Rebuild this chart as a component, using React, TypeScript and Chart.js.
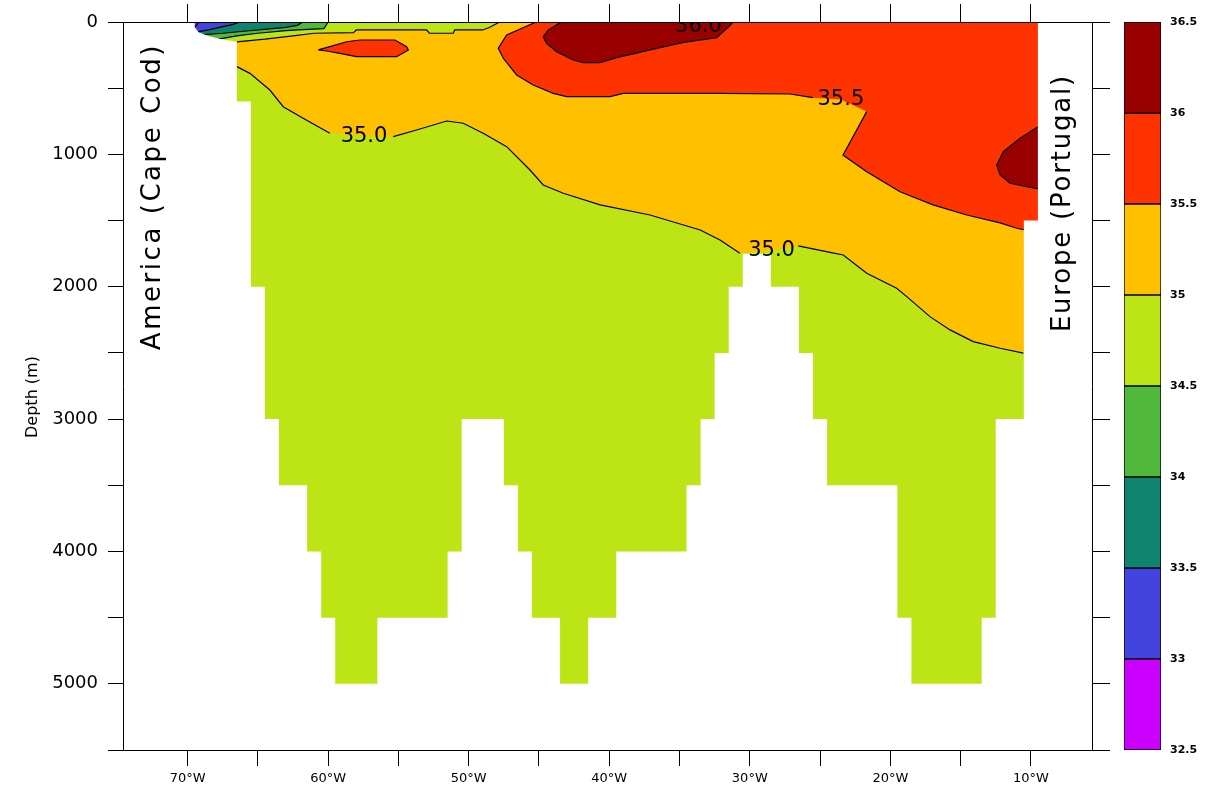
import { useEffect, useRef } from 'react';
import { Chart, registerables } from 'chart.js';

Chart.register(...registerables);

// ---- axes ----
const LON_MIN = -74.6;
const LON_MAX = -5.65;
const DEPTH_MAX = 5500;
const LON_TICK_STEP = 5;
const DEPTH_TICK_STEP = 500;
const Y_TITLE = 'Depth (m)';

// ---- salinity levels / colours ----
const LEVELS = [32.5, 33, 33.5, 34, 34.5, 35, 35.5, 36, 36.5];
const LEVEL_COLORS = ['#cc00ff', '#4343dd', '#0e836d', '#50b83a', '#bde516', '#ffc000', '#ff3300', '#990000'];

// ---- bathymetry (cell edges in degrees lon, floor depth per cell) ----
const SHELF_LON = [-69.5, -69.2, -68.5, -67.6, -66.5];
const SHELF_DEP = [40, 80, 105, 130, 150];
const BATHY_EDGES = [-66.5, -65.5, -64.5, -63.5, -61.5, -60.5, -59.5, -56.5, -51.5, -50.5, -47.5, -46.5, -45.5, -43.5, -41.5, -39.5, -34.5, -33.5, -32.5, -31.5, -30.5, -28.5, -26.5, -25.5, -24.5, -19.5, -18.5, -13.5, -12.5, -10.5, -9.5];
const BATHY_DEPTHS = [600, 2000, 3000, 3500, 4000, 4500, 5000, 4500, 4000, 3000, 3500, 4000, 4500, 5000, 4500, 4000, 3500, 3000, 2500, 2000, 1750, 2000, 2500, 3000, 3500, 4500, 5000, 4500, 3000, 1500];

// ---- isohalines ----
// 35.0 near-surface (fresh shelf water above)
const C350_TOP_LON = [-66.5, -64.5, -62.5, -61.0, -58.2, -58.0, -53.0, -52.8, -51.1, -51.0, -49.0, -48.5, -47.8];
const C350_TOP_DEP = [150, 130, 105, 85, 80, 60, 60, 85, 85, 60, 60, 40, 0];
// 35.0 deep
const C350_LON = [-66.5, -65.57, -64.15, -63.2, -61.78, -59.88, -57.45, -55.37, -53.71, -51.57, -50.39, -48.97, -47.3, -45.64, -44.7, -43.27, -40.65, -37.1, -33.53, -32.12, -30.7, -28.45, -26.55, -24.29, -23.35, -21.68, -19.55, -18.83, -17.18, -15.75, -14.1, -12.19, -10.53];
const C350_DEP = [337, 388, 514, 640, 727, 841, 862, 866, 816, 748, 765, 841, 942, 1118, 1231, 1294, 1382, 1458, 1571, 1647, 1747, 1726, 1692, 1740, 1760, 1898, 2011, 2075, 2226, 2326, 2415, 2465, 2502];
const C350_LABEL_IDX = [6, 21];
// 35.5
const C355_LON = [-45.2, -47.3, -47.9, -47.54, -46.59, -45.41, -43.99, -43.03, -39.95, -39.0, -32.12, -27.14, -25.5, -23.52, -21.68, -23.1, -23.37, -21.68, -19.31, -16.96, -14.56, -12.19, -11.0, -9.82];
const C355_DEP = [0, 98, 199, 274, 400, 476, 539, 564, 564, 539, 539, 544, 572, 585, 677, 954, 1005, 1131, 1282, 1382, 1458, 1518, 1558, 1584];
const C355_LABEL_IDX = [13];
// 35.5 closed blob near 57W
const C355B_LON = [-60.71, -59.88, -58.69, -57.74, -55.25, -54.42, -54.3, -55.13, -57.98, -59.17, -60.11];
const C355B_DEP = [211, 186, 149, 136, 136, 186, 211, 262, 262, 237, 219];
// 36.0 near surface
const C360_LON = [-43.4, -44.34, -44.7, -44.46, -43.74, -42.56, -41.85, -40.66, -39.47, -37.1, -34.73, -32.36, -31.37, -31.2];
const C360_DEP = [0, 60, 111, 161, 224, 287, 307, 307, 269, 211, 154, 118, 23, 0];
// 36.0 at Portugal (Mediterranean water)
const C360E_LON = [-9.5, -10.77, -11.96, -12.43, -12.19, -11.48, -9.5];
const C360E_DEP = [791, 878, 980, 1080, 1156, 1218, 1261];
// shelf isohalines (34.5, 34.0, 33.5, 33.0)
const C345_LON = [-67.8, -66.5, -65.0, -63.0, -61.8, -60.3, -60.0];
const C345_DEP = [130, 105, 85, 65, 58, 50, 0];
const C340_LON = [-68.9, -67.5, -66.0, -64.0, -63.0, -62.2, -61.8];
const C340_DEP = [95, 85, 70, 50, 40, 25, 0];
const C335_LON = [-69.3, -68.5, -67.5, -66.8, -66.3];
const C335_DEP = [75, 60, 35, 20, 0];
const C330_LON = [-69.5, -69.3, -69.2];
const C330_DEP = [40, 15, 0];

// ---- text ----
const LABEL_36_LON = -33.65;
const LABEL_36_DEP = 38;
const END_TEXT = ['America (Cape Cod)', 'Europe (Portugal)'];
const END_LON = [-72.48, -7.71];
const END_DEP = [1329, 1375];
const END_LEN = [307, 258];

// polygon helpers (outside-of-view anchors)
const W_OUT = -77;
const E_OUT = -3;
const TOP_OUT = -300;
const BOT_OUT = 6200;

type P = { x: number; y: number };
const pts = (lon: number[], dep: number[]): P[] => lon.map((x, i) => ({ x, y: dep[i] }));

function splitAt(data: P[], idxs: number[]): P[][] {
  const out: P[][] = [];
  let cur: P[] = [];
  data.forEach((p, i) => {
    if (idxs.includes(i)) {
      if (cur.length) out.push(cur);
      cur = [];
    } else cur.push(p);
  });
  if (cur.length) out.push(cur);
  return out;
}

const fillDs = (data: P[], color: string) => ({
  data,
  showLine: true,
  fill: 'shape',
  backgroundColor: color,
  borderColor: 'rgba(0,0,0,0)',
  borderWidth: 0,
  pointRadius: 0,
  pointHoverRadius: 0,
});
const lineDs = (data: P[]) => ({
  data,
  showLine: true,
  fill: false,
  borderColor: '#000',
  borderWidth: 1.2,
  pointRadius: 0,
  pointHoverRadius: 0,
});

function buildDatasets() {
  const c350top = pts(C350_TOP_LON, C350_TOP_DEP);
  const c350 = pts(C350_LON, C350_DEP);
  const c355 = pts(C355_LON, C355_DEP);
  const c355b = pts(C355B_LON, C355B_DEP);
  const c360 = pts(C360_LON, C360_DEP);
  const c360e = pts(C360E_LON, C360E_DEP);
  const c345 = pts(C345_LON, C345_DEP);
  const c340 = pts(C340_LON, C340_DEP);
  const c335 = pts(C335_LON, C335_DEP);
  const c330 = pts(C330_LON, C330_DEP);

  const base = [
    { x: W_OUT, y: 0 }, { x: E_OUT, y: 0 }, { x: E_OUT, y: DEPTH_MAX }, { x: W_OUT, y: DEPTH_MAX },
  ];
  const orange = [
    { x: -67, y: C350_DEP[0] }, { x: -67, y: C350_TOP_DEP[0] },
    ...c350top,
    { x: E_OUT, y: 0 }, { x: E_OUT, y: C350_DEP[C350_DEP.length - 1] },
    ...c350.slice().reverse(),
  ];
  const red = [...c355, { x: E_OUT, y: C355_DEP[C355_DEP.length - 1] }, { x: E_OUT, y: 0 }];
  const darkTop = [...c360];
  const darkE = [{ x: E_OUT, y: C360E_DEP[0] }, ...c360e, { x: E_OUT, y: C360E_DEP[C360E_DEP.length - 1] }];
  const shelfPoly = (c: P[]) => [{ x: W_OUT, y: 0 }, { x: W_OUT, y: 400 }, { x: c[0].x, y: 400 }, ...c];

  const land: P[] = [{ x: W_OUT, y: TOP_OUT }, { x: SHELF_LON[0], y: TOP_OUT }, ...pts(SHELF_LON, SHELF_DEP)];
  for (let i = 0; i < BATHY_DEPTHS.length; i++) {
    land.push({ x: BATHY_EDGES[i], y: BATHY_DEPTHS[i] }, { x: BATHY_EDGES[i + 1], y: BATHY_DEPTHS[i] });
  }
  land.push(
    { x: BATHY_EDGES[BATHY_EDGES.length - 1], y: TOP_OUT },
    { x: E_OUT, y: TOP_OUT }, { x: E_OUT, y: BOT_OUT }, { x: W_OUT, y: BOT_OUT },
  );

  const layers: any[] = [
    fillDs(base, LEVEL_COLORS[4]),
    fillDs(orange, LEVEL_COLORS[5]),
    fillDs(red, LEVEL_COLORS[6]),
    fillDs(c355b, LEVEL_COLORS[6]),
    fillDs(darkTop, LEVEL_COLORS[7]),
    fillDs(darkE, LEVEL_COLORS[7]),
    fillDs(shelfPoly(c345), LEVEL_COLORS[3]),
    fillDs(shelfPoly(c340), LEVEL_COLORS[2]),
    fillDs(shelfPoly(c335), LEVEL_COLORS[1]),
    fillDs(shelfPoly(c330), LEVEL_COLORS[0]),
    lineDs(c350top),
    ...splitAt(c350, C350_LABEL_IDX).map(lineDs),
    ...splitAt(c355, C355_LABEL_IDX).map(lineDs),
    lineDs([...c355b, c355b[0]]),
    lineDs(c360),
    lineDs(c360e),
    lineDs(c345),
    lineDs(c340),
    lineDs(c335),
    lineDs(c330),
    fillDs(land, '#ffffff'),
  ];
  const n = layers.length;
  return layers.map((d, i) => ({ ...d, order: n - i }));
}

const textPlugin = {
  id: 'sectionText',
  afterDatasetsDraw(chart: any) {
    const { ctx, chartArea, scales } = chart;
    const xs = scales.x;
    const ys = scales.y;

    // axis title (outside the plot)
    ctx.save();
    ctx.fillStyle = '#000';
    ctx.textAlign = 'center';
    ctx.textBaseline = 'middle';
    ctx.font = '16px "DejaVu Sans"';
    ctx.translate(chartArea.left - 90, (chartArea.top + chartArea.bottom) / 2 + 11);
    ctx.rotate(-Math.PI / 2);
    ctx.fillText(Y_TITLE, 0, 0);
    ctx.restore();

    ctx.save();
    ctx.beginPath();
    ctx.rect(chartArea.left, chartArea.top, chartArea.right - chartArea.left, chartArea.bottom - chartArea.top);
    ctx.clip();
    ctx.fillStyle = '#000';
    ctx.textAlign = 'center';
    ctx.textBaseline = 'middle';
    ctx.font = '21px "DejaVu Sans"';
    const labels: [string, number, number][] = [];
    C350_LABEL_IDX.forEach((i) => labels.push(['35.0', C350_LON[i], C350_DEP[i]]));
    C355_LABEL_IDX.forEach((i) => labels.push(['35.5', C355_LON[i], C355_DEP[i]]));
    labels.push(['36.0', LABEL_36_LON, LABEL_36_DEP]);
    labels.forEach(([t, lon, d]) => ctx.fillText(t, xs.getPixelForValue(lon), ys.getPixelForValue(d)));

    ctx.font = '26px "DejaVu Sans"';
    END_TEXT.forEach((t, i) => {
      const px = xs.getPixelForValue(END_LON[i]);
      const py = ys.getPixelForValue(END_DEP[i]);
      ctx.save();
      ctx.translate(px, py);
      ctx.rotate(-Math.PI / 2);
      if ('letterSpacing' in ctx) {
        (ctx as any).letterSpacing = '0px';
        const w0 = ctx.measureText(t).width;
        const sp = Math.max(0, (END_LEN[i] - w0) / t.length);
        (ctx as any).letterSpacing = sp + 'px';
        ctx.fillText(t, sp / 2, 0);
        (ctx as any).letterSpacing = '0px';
      } else {
        const w0 = ctx.measureText(t).width;
        ctx.scale(END_LEN[i] / w0, 1);
        ctx.fillText(t, 0, 0);
      }
      ctx.restore();
    });
    ctx.restore();
  },
};

const axisLine = { display: true, color: '#000', width: 1, z: 1 };

export default function App() {
  const mainRef = useRef<HTMLCanvasElement>(null);
  const barRef = useRef<HTMLCanvasElement>(null);

  useEffect(() => {
    Chart.defaults.font.family = '"DejaVu Sans", sans-serif';
    Chart.defaults.color = '#000';

    const main = new Chart(mainRef.current as HTMLCanvasElement, {
      type: 'scatter',
      data: { datasets: buildDatasets() as any },
      plugins: [textPlugin],
      options: {
        animation: false,
        responsive: false,
        maintainAspectRatio: false,
        layout: { padding: 0 },
        plugins: { legend: { display: false }, tooltip: { enabled: false } },
        events: [],
        scales: {
          x: {
            type: 'linear',
            position: 'bottom',
            min: LON_MIN,
            max: LON_MAX,
            afterFit: (s: any) => { s.height = 43; },
            grid: { drawOnChartArea: false, drawTicks: true, tickLength: 16, color: '#000' },
            border: axisLine,
            ticks: {
              stepSize: LON_TICK_STEP,
              includeBounds: false,
              autoSkip: false,
              maxRotation: 0,
              padding: 5,
              font: { size: 13 },
              color: '#000',
              callback: (v: any) => (Math.round(v) % 10 === 0 ? `${Math.abs(Math.round(v))}°W` : ''),
            },
          },
          xTop: {
            type: 'linear',
            position: 'top',
            min: LON_MIN,
            max: LON_MAX,
            afterFit: (s: any) => { s.height = 22; },
            grid: { drawOnChartArea: false, drawTicks: true, tickLength: 18, color: '#000' },
            border: axisLine,
            ticks: { stepSize: LON_TICK_STEP, includeBounds: false, autoSkip: false, display: false },
          },
          y: {
            type: 'linear',
            position: 'left',
            reverse: true,
            min: 0,
            max: DEPTH_MAX,
            afterFit: (s: any) => { s.width = 123; },
            grid: { drawOnChartArea: false, drawTicks: true, tickLength: 15, color: '#000' },
            border: axisLine,
            ticks: {
              stepSize: DEPTH_TICK_STEP,
              autoSkip: false,
              padding: 10,
              font: { size: 18 },
              color: '#000',
              callback: (v: any) => (v % 1000 === 0 ? String(v) : ''),
            },
          },
          yRight: {
            type: 'linear',
            position: 'right',
            reverse: true,
            min: 0,
            max: DEPTH_MAX,
            afterFit: (s: any) => { s.width = 119; },
            grid: { drawOnChartArea: false, drawTicks: true, tickLength: 18, color: '#000' },
            border: axisLine,
            ticks: { stepSize: DEPTH_TICK_STEP, autoSkip: false, display: false },
          },
        },
      } as any,
    });

    const bar = new Chart(barRef.current as HTMLCanvasElement, {
      type: 'bar',
      data: {
        labels: [''],
        datasets: LEVEL_COLORS.map((c, i) => ({
          data: [[LEVELS[i], LEVELS[i + 1]]],
          backgroundColor: c,
          borderColor: '#000',
          borderWidth: 1,
          borderSkipped: false,
          barPercentage: 1,
          categoryPercentage: 1,
          grouped: false,
        })) as any,
      },
      options: {
        animation: false,
        responsive: false,
        maintainAspectRatio: false,
        events: [],
        layout: { padding: { left: 24, top: 22, bottom: 43, right: 0 } },
        plugins: { legend: { display: false }, tooltip: { enabled: false } },
        scales: {
          x: { display: false },
          y: {
            position: 'right',
            min: LEVELS[0],
            max: LEVELS[LEVELS.length - 1],
            afterFit: (s: any) => { s.width = 50; },
            grid: { display: false, drawTicks: false },
            border: { display: false },
            ticks: {
              stepSize: 0.5,
              autoSkip: false,
              padding: 9,
              font: { size: 11, weight: 'bold' },
              color: '#000',
              callback: (v: any) => (Number.isInteger(v) ? String(v) : Number(v).toFixed(1)),
            },
          },
        },
      } as any,
    });

    return () => {
      main.destroy();
      bar.destroy();
    };
  }, []);

  return (
    <div style={{ position: 'absolute', left: 0, top: 0, width: 1211, height: 793, background: '#fff' }}>
      <canvas ref={mainRef} width={1211} height={793} style={{ position: 'absolute', left: 0, top: 0 }} />
      <canvas ref={barRef} width={111} height={793} style={{ position: 'absolute', left: 1100, top: 0 }} />
    </div>
  );
}
